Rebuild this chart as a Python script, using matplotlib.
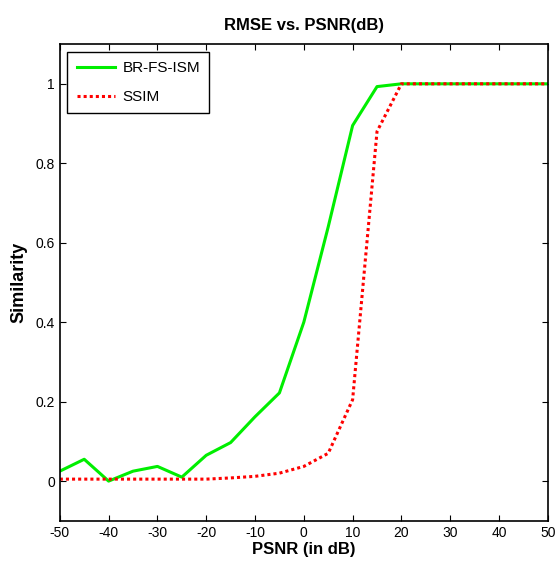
import matplotlib
matplotlib.use("Agg")
import matplotlib.pyplot as plt

plt.rcParams["font.family"] = ["Liberation Sans", "DejaVu Sans"]
plt.rcParams["axes.unicode_minus"] = False

psnr = [-50, -45, -40, -35, -30, -25, -20, -15, -10, -5, 0, 5, 10, 15, 20, 25, 30, 35, 40, 45, 50]
br_fs_ism = [0.025, 0.055, 0.0, 0.025, 0.037, 0.01, 0.065, 0.097, 0.162, 0.222, 0.40, 0.64, 0.895,
             0.993, 1.0, 1.0, 1.0, 1.0, 1.0, 1.0, 1.0]
ssim = [0.005, 0.005, 0.005, 0.005, 0.005, 0.005, 0.005, 0.008, 0.012, 0.02, 0.037, 0.07, 0.205,
        0.88, 1.0, 1.0, 1.0, 1.0, 1.0, 1.0, 1.0]

fig = plt.figure(figsize=(5.59, 5.80), dpi=100)
ax = fig.add_axes([0.107, 0.102, 0.873, 0.822])

ax.plot(psnr, br_fs_ism, color="#00ee00", linewidth=2.2, label="BR-FS-ISM")
ax.plot(psnr, ssim, color="#ff0000", linewidth=2.2, linestyle=(0, (1, 1)), label="SSIM")

ax.set_xlim(-50, 50)
ax.set_ylim(-0.1, 1.1)
ax.set_xticks(range(-50, 51, 10))
ax.set_yticks([0, 0.2, 0.4, 0.6, 0.8, 1])
ax.set_yticklabels(["0", "0.2", "0.4", "0.6", "0.8", "1"])
ax.tick_params(direction="in", top=True, right=True, labelsize=10, length=4)
for s in ax.spines.values():
    s.set_linewidth(1.2)

ax.set_title("RMSE vs. PSNR(dB)", fontsize=12, fontweight="bold", pad=10)
ax.set_xlabel("PSNR (in dB)", fontsize=12, fontweight="bold", labelpad=2)
ax.set_ylabel("Similarity", fontsize=13, fontweight="bold", labelpad=6)

leg = ax.legend(loc="upper left", fontsize=11, fancybox=False, framealpha=1,
                edgecolor="black", borderaxespad=0.5, handlelength=2.5,
                labelspacing=1.0, borderpad=0.6, handletextpad=0.5)
leg.get_frame().set_linewidth(1.0)

fig.savefig("out.png", dpi=100)
